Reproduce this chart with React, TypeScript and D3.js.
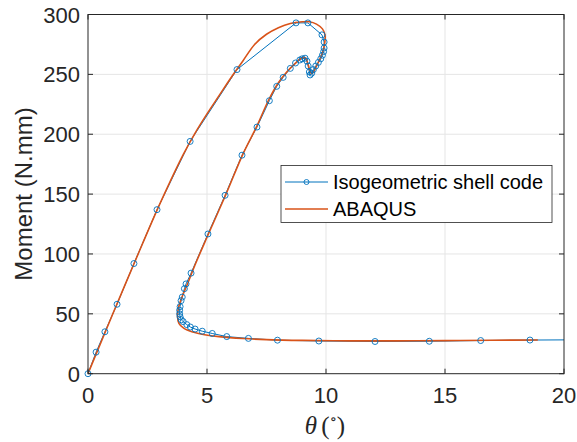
import React from "react";
import * as d3 from "d3";

const xTicks = [0, 5, 10, 15, 20];
const yTicks = [0, 50, 100, 150, 200, 250, 300];
const seriesNames = ["Isogeometric shell code", "ABAQUS"];

// Isogeometric shell code (theta, moment)
const isoTheta = [0, 0.34, 0.71, 1.22, 1.93, 2.9, 4.29, 6.26, 8.74, 9.24, 9.83, 9.92, 9.92, 9.9, 9.85, 9.78, 9.68, 9.57, 9.47, 9.4, 9.33, 9.3, 9.25, 9.2, 9.12, 9.0, 8.9, 8.72, 8.5, 8.2, 7.93, 7.62, 7.1, 6.47, 5.76, 5.04, 4.33, 4.12, 4.05, 3.96, 3.91, 3.87, 3.85, 3.85, 3.87, 3.92, 4.0, 4.15, 4.3, 4.5, 4.8, 5.22, 5.83, 6.74, 7.96, 9.7, 12.06, 14.34, 16.5, 18.57, 20.6];
const isoMoment = [0, 18, 35, 58, 92, 137, 194, 254, 293, 293, 283, 277, 272, 269, 266, 263, 260, 257, 254, 251, 249.5, 252, 257, 261, 263.5, 263, 262, 259.5, 255, 247.5, 240, 228, 206, 182.5, 149, 116.7, 84, 75, 71, 64, 61, 56, 53, 50, 47.5, 45, 43.5, 41, 39, 37.3, 35.5, 33.6, 31, 29.5, 28, 27.3, 26.9, 27.1, 27.7, 28.1, 28.3];

// ABAQUS (theta, moment)
const abqTheta = [0, 0.5, 1, 2, 3, 4, 4.5, 5, 5.5, 6, 6.5, 7, 7.5, 8, 8.5, 9, 9.3, 9.6, 9.85, 9.96, 9.95, 9.85, 9.65, 9.4, 9.25, 9.15, 9.0, 8.7, 8.35, 8.0, 7.6, 7.1, 6.5, 5.8, 5.0, 4.5, 4.2, 3.95, 3.8, 3.76, 3.82, 4.02, 4.4, 4.9, 5.5, 6.5, 7.5, 9, 11, 13, 15, 17, 18.9];
const abqMoment = [0, 24, 48, 95, 141, 183, 201, 217, 232, 247, 261, 275, 283.5, 289, 292.5, 293.9, 294, 292, 288, 283, 277, 268, 259, 250.5, 258, 263.5, 264, 259, 252, 243, 229, 207, 183, 150, 114, 91, 76, 64, 55, 48, 42, 38, 34.8, 32.6, 31, 29.4, 28.5, 27.8, 27.4, 27.4, 27.6, 27.9, 28.2];

const W = 577, H = 442;
const L = 88, R = 564, T = 14.5, B = 373.7;
const BLUE = "#0072BD", ORANGE = "#D95319", AX = "#262626", GRID = "#e5e5e5";

export default function App() {
  const x = d3.scaleLinear().domain([0, 20]).range([L, R]);
  const y = d3.scaleLinear().domain([0, 300]).range([B, T]);
  const iso = isoTheta.map((t, i) => [t, isoMoment[i]] as [number, number]);
  const abq = abqTheta.map((t, i) => [t, abqMoment[i]] as [number, number]);
  const lineLin = d3.line<[number, number]>().x(d => x(d[0])).y(d => y(d[1]));
  const lineSmooth = d3.line<[number, number]>().x(d => x(d[0])).y(d => y(d[1])).curve(d3.curveCatmullRom.alpha(0.5));
  const font = "'Liberation Sans', Arial, Helvetica, sans-serif";
  const tl = 5;
  return (
    <svg width={W} height={H} style={{ position: "absolute", left: 0, top: 0, background: "#fff" }} fontFamily={font}>
      <defs>
        <clipPath id="plotclip"><rect x={L} y={T} width={R - L} height={B - T} /></clipPath>
      </defs>
      <rect x={0} y={0} width={W} height={H} fill="#fff" />
      {/* grid */}
      {xTicks.filter(v => v > 0 && v < 20).map(v => (
        <line key={"gx" + v} x1={x(v)} x2={x(v)} y1={T} y2={B} stroke={GRID} strokeWidth={1} />
      ))}
      {yTicks.filter(v => v > 0 && v < 300).map(v => (
        <line key={"gy" + v} x1={L} x2={R} y1={y(v)} y2={y(v)} stroke={GRID} strokeWidth={1} />
      ))}
      {/* data */}
      <g clipPath="url(#plotclip)">
        <path d={lineLin(iso) || ""} fill="none" stroke={BLUE} strokeWidth={1} />
        <path d={lineSmooth(abq) || ""} fill="none" stroke={ORANGE} strokeWidth={1.6} />
      </g>
      {iso.filter(d => d[0] <= 20).map((d, i) => (
        <circle key={"m" + i} cx={x(d[0])} cy={y(d[1])} r={3} fill="none" stroke={BLUE} strokeWidth={0.9} />
      ))}
      {/* axes box */}
      <rect x={L} y={T} width={R - L} height={B - T} fill="none" stroke={AX} strokeWidth={1} />
      {xTicks.map(v => (
        <g key={"tx" + v}>
          <line x1={x(v)} x2={x(v)} y1={B} y2={B - tl} stroke={AX} />
          <line x1={x(v)} x2={x(v)} y1={T} y2={T + tl} stroke={AX} />
          <text x={x(v)} y={403} textAnchor="middle" fontSize={22} fill={AX}>{v}</text>
        </g>
      ))}
      {yTicks.map(v => (
        <g key={"ty" + v}>
          <line x1={L} x2={L + tl} y1={y(v)} y2={y(v)} stroke={AX} />
          <line x1={R} x2={R - tl} y1={y(v)} y2={y(v)} stroke={AX} />
          <text x={80} y={y(v) + 8} textAnchor="end" fontSize={22} fill={AX}>{v}</text>
        </g>
      ))}
      {/* axis labels */}
      <text transform={`translate(32,194) rotate(-90)`} textAnchor="middle" fontSize={24} fill={AX}>Moment (N.mm)</text>
      <text x={325} y={434} textAnchor="middle" fontSize={25} fill={AX} fontFamily="'Liberation Serif', 'DejaVu Serif', serif">
        <tspan fontStyle="italic">θ</tspan>
        <tspan dx={4}>(</tspan>
        <tspan fontSize={15} dy={-10}>∘</tspan>
        <tspan dy={10}>)</tspan>
      </text>
      {/* legend */}
      <rect x={281} y={165.5} width={271} height={57} fill="#fff" stroke={AX} strokeWidth={0.8} />
      <line x1={285} x2={328} y1={182} y2={182} stroke={BLUE} strokeWidth={1} />
      <circle cx={306.5} cy={182} r={2.5} fill="none" stroke={BLUE} strokeWidth={0.9} />
      <text x={333} y={189} fontSize={20} fill="#000">{seriesNames[0]}</text>
      <line x1={285} x2={328} y1={209} y2={209} stroke={ORANGE} strokeWidth={1.6} />
      <text x={333} y={216} fontSize={20} fill="#000">{seriesNames[1]}</text>
    </svg>
  );
}
